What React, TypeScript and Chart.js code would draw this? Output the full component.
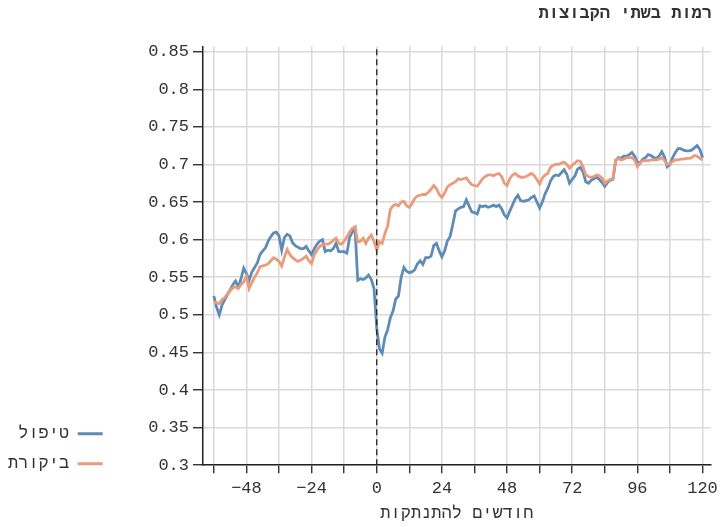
import { useEffect, useRef } from 'react';
import { Chart, registerables } from 'chart.js';

Chart.register(...registerables);

// Months relative to disengagement: series start at month -60, one value per month.
const FIRST_MONTH = -60;

// Treatment group (טיפול)
const treatmentPre = [
  0.525, 0.51, 0.5, 0.513, 0.52, 0.527, 0.533, 0.54, 0.545, 0.537, 0.548, 0.562,
  0.555, 0.546, 0.557, 0.563, 0.569, 0.58, 0.585, 0.589, 0.598, 0.604, 0.609, 0.61,
  0.605, 0.586, 0.603, 0.607, 0.605, 0.596, 0.592, 0.59, 0.588,
  0.588, 0.591, 0.585, 0.58, 0.588, 0.594, 0.598, 0.6, 0.584, 0.586, 0.585, 0.588,
  0.595, 0.584, 0.584, 0.584, 0.582, 0.603, 0.61, 0.615, 0.546, 0.548, 0.547, 0.549,
  0.553, 0.547, 0.535,
];
const treatmentPost = [
  0.482, 0.455, 0.449, 0.47, 0.48, 0.496, 0.505, 0.521, 0.525, 0.55, 0.563, 0.558,
  0.556, 0.557, 0.56, 0.568, 0.572, 0.567, 0.576, 0.576, 0.578, 0.592, 0.595, 0.585,
  0.577, 0.585, 0.598, 0.604, 0.62, 0.638, 0.641, 0.643, 0.644, 0.653, 0.645,
  0.637, 0.636, 0.634, 0.645, 0.644, 0.645, 0.643, 0.644, 0.646, 0.644, 0.646, 0.641,
  0.633, 0.629, 0.638, 0.646, 0.654, 0.659, 0.652, 0.651, 0.652, 0.653, 0.656, 0.658,
  0.65, 0.642, 0.65, 0.661, 0.668, 0.678, 0.684, 0.686, 0.685, 0.689, 0.693, 0.687,
  0.675, 0.68, 0.685, 0.694, 0.696, 0.69, 0.677, 0.675, 0.679, 0.681, 0.683, 0.68,
  0.676, 0.671, 0.676, 0.679, 0.68, 0.705, 0.709, 0.708, 0.711, 0.711, 0.713, 0.716,
  0.711, 0.703, 0.702, 0.707, 0.709, 0.713, 0.712, 0.709, 0.708, 0.711, 0.717, 0.71,
  0.697, 0.7, 0.709, 0.716, 0.721, 0.721, 0.719, 0.718, 0.718, 0.719, 0.722, 0.725,
  0.72, 0.709,
];

// Control group (ביקורת)
const controlPre = [
  0.517, 0.516, 0.515, 0.52, 0.523, 0.528, 0.532, 0.536, 0.537, 0.535, 0.54, 0.544,
  0.551, 0.535, 0.543, 0.55, 0.556, 0.564, 0.565, 0.566, 0.568, 0.572, 0.576, 0.574,
  0.571, 0.565, 0.577, 0.587, 0.58, 0.576, 0.573, 0.571, 0.573,
  0.575, 0.578, 0.572, 0.568, 0.58, 0.586, 0.591, 0.593, 0.594, 0.594, 0.596, 0.599,
  0.602, 0.595, 0.594, 0.598, 0.604, 0.61, 0.615, 0.617, 0.597, 0.598, 0.602, 0.595,
  0.602, 0.606, 0.598,
];
const controlPost = [
  0.586, 0.597, 0.595, 0.608, 0.618,
  0.64, 0.645, 0.647, 0.645, 0.65, 0.651, 0.645, 0.643, 0.648, 0.655, 0.658, 0.659,
  0.66, 0.66, 0.663, 0.667, 0.672, 0.668, 0.66, 0.656, 0.662, 0.67, 0.673, 0.675,
  0.677, 0.681, 0.68, 0.681, 0.682, 0.677, 0.673, 0.672, 0.671, 0.676, 0.681, 0.684,
  0.686, 0.686, 0.685, 0.687, 0.688, 0.684, 0.675, 0.672, 0.681, 0.686, 0.688, 0.685,
  0.683, 0.683, 0.684, 0.686, 0.688, 0.685, 0.68, 0.674, 0.682, 0.686, 0.688, 0.696,
  0.699, 0.7, 0.7, 0.702, 0.703, 0.7, 0.695, 0.699, 0.702, 0.705, 0.704, 0.697,
  0.686, 0.684, 0.683, 0.684, 0.686, 0.685, 0.682, 0.675, 0.678, 0.68, 0.681, 0.706,
  0.708, 0.706, 0.707, 0.709, 0.709, 0.709, 0.706, 0.697, 0.702, 0.705, 0.705, 0.705,
  0.706, 0.706, 0.706, 0.707, 0.709, 0.705, 0.7, 0.701, 0.704, 0.706, 0.706, 0.707,
  0.707, 0.708, 0.708, 0.709, 0.712, 0.711, 0.708, 0.706,
];

const seriesNames = ['טיפול', 'ביקורת'];
const chartTitle = 'רמות בשתי הקבוצות';
const xAxisTitle = 'חודשים להתנתקות';

// Tick positions (grid every 12 months, labels every 24) and y ticks
const xTickValues = [-60, -48, -36, -24, -12, 0, 12, 24, 36, 48, 60, 72, 84, 96, 108, 120];
const xLabelledTicks = [-48, -24, 0, 24, 48, 72, 96, 120];
const yTickValues = [0.3, 0.35, 0.4, 0.45, 0.5, 0.55, 0.6, 0.65, 0.7, 0.75, 0.8, 0.85];

const X_MIN = -64;
const X_MAX = 123;
const Y_MIN = 0.3;
const Y_MAX = 0.857;
const CUTOFF_MONTH = 0;

const FONT = 'Liberation Mono';
const FONT_SIZE = 17;
const TEXT = '#333333';
const BLUE = '#5f8cb6';
const ORANGE = '#e99b7c';
const GRID = '#d9d9d9';
const AXIS = '#222222';
const PAD_LEFT = 4;
const PLOT_LEFT = 203;
const LEGEND_SHIFT_Y = 20;
const LEGEND_SHIFT_X = -6;

function toPoints(values: number[]) {
  return values.map((v, i) => ({ x: FIRST_MONTH + i, y: v }));
}

const legendShift = {
  id: 'legendShift',
  afterLayout(chart: any) {
    const lg = chart.legend;
    if (lg) {
      lg.top += LEGEND_SHIFT_Y;
      lg.bottom += LEGEND_SHIFT_Y;
      lg.left += LEGEND_SHIFT_X;
      lg.right += LEGEND_SHIFT_X;
    }
  },
};

export default function App() {
  const ref = useRef<HTMLCanvasElement>(null);

  useEffect(() => {
    if (!ref.current) return;
    const treatment = toPoints([...treatmentPre, ...treatmentPost]);
    const control = toPoints([...controlPre, ...controlPost]);
    const colors = [BLUE, ORANGE];

    const chart = new Chart(ref.current, {
      type: 'line',
      data: {
        datasets: [
          {
            label: seriesNames[0],
            data: treatment,
            borderColor: BLUE,
            backgroundColor: BLUE,
            borderWidth: 2.8,
            pointRadius: 0,
            tension: 0,
            order: 2,
          },
          {
            label: seriesNames[1],
            data: control,
            borderColor: ORANGE,
            backgroundColor: ORANGE,
            borderWidth: 2.8,
            pointRadius: 0,
            tension: 0,
            order: 1,
          },
          {
            label: 'cutoff',
            data: [
              { x: CUTOFF_MONTH, y: Y_MIN },
              { x: CUTOFF_MONTH, y: Y_MAX },
            ],
            borderColor: AXIS,
            borderWidth: 1.3,
            borderDash: [6, 4],
            pointRadius: 0,
            order: 0,
          },
        ],
      },
      options: {
        animation: false,
        responsive: false,
        maintainAspectRatio: false,
        layout: { padding: { left: PAD_LEFT, right: 11, top: 0, bottom: 3 } },
        plugins: {
          tooltip: { enabled: false },
          title: {
            display: true,
            text: chartTitle,
            align: 'end',
            color: TEXT,
            font: { family: FONT, size: FONT_SIZE, weight: 'bold' },
            padding: { top: 4, bottom: 22 },
          },
          legend: {
            display: true,
            position: 'left',
            align: 'end',
            fullSize: false,
            rtl: true,
            labels: {
              boxWidth: 25,
              boxHeight: 3,
              padding: 13,
              color: TEXT,
              font: { family: FONT, size: FONT_SIZE },
              generateLabels: () =>
                seriesNames.map((name, i) => ({
                  text: name,
                  fillStyle: colors[i],
                  strokeStyle: colors[i],
                  lineWidth: 0,
                  hidden: false,
                  datasetIndex: i,
                  fontColor: TEXT,
                })),
            },
          },
        },
        scales: {
          x: {
            type: 'linear',
            min: X_MIN,
            max: X_MAX,
            afterBuildTicks: (scale: any) => {
              scale.ticks = xTickValues.map((v) => ({ value: v }));
            },
            ticks: {
              autoSkip: false,
              maxRotation: 0,
              padding: 5,
              color: TEXT,
              font: { family: FONT, size: FONT_SIZE },
              callback: (v: any) => {
                const n = Number(v);
                if (!xLabelledTicks.includes(n)) return '';
                return n < 0 ? '\u2212' + Math.abs(n) : String(n);
              },
            },
            grid: {
              color: GRID,
              lineWidth: 1.5,
              drawTicks: true,
              tickLength: 8,
              tickColor: AXIS,
              tickWidth: 1.3,
            },
            border: { display: true, color: AXIS, width: 1.5 },
            title: {
              display: true,
              text: xAxisTitle,
              color: TEXT,
              font: { family: FONT, size: FONT_SIZE },
              padding: { top: 0, bottom: 0 },
            },
          },
          y: {
            type: 'linear',
            min: Y_MIN,
            max: Y_MAX,
            afterBuildTicks: (scale: any) => {
              scale.ticks = yTickValues.map((v) => ({ value: v }));
            },
            afterFit: (scale: any) => {
              const lg = scale.chart.legend;
              const lw = lg ? lg.width : 0;
              scale.width = PLOT_LEFT - lw - PAD_LEFT;
            },
            ticks: {
              padding: 4,
              color: TEXT,
              font: { family: FONT, size: FONT_SIZE },
              callback: (v: any) => String(Number(Number(v).toFixed(2))),
            },
            grid: {
              color: GRID,
              lineWidth: 1.5,
              drawTicks: true,
              tickLength: 10,
              tickColor: AXIS,
              tickWidth: 1.3,
            },
            border: { display: true, color: AXIS, width: 1.5 },
          },
        },
      },
      plugins: [legendShift],
    } as any);

    return () => chart.destroy();
  }, []);

  return (
    <div style={{ position: 'fixed', left: 0, top: 0, width: 723, height: 527, background: '#fff' }}>
      <canvas ref={ref} width={723} height={527} style={{ display: 'block' }} />
    </div>
  );
}
